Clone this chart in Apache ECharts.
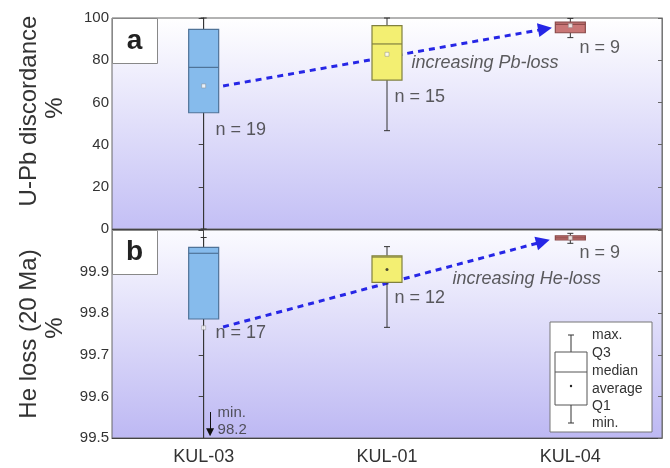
<!DOCTYPE html>
<html>
<head>
<meta charset="utf-8">
<script src="https://cdn.jsdelivr.net/npm/echarts@6/dist/echarts.min.js"></script>
<style>
html,body{margin:0;padding:0;background:#fff;}
#chart{width:670px;height:468px;}
</style>
</head>
<body>
<div id="chart"></div>
<script>
// ---- data ----
const categories = ['KUL-03', 'KUL-01', 'KUL-04'];

// U-Pb discordance (%)
const pbMin    = [0, 46.6, 90.7];
const pbQ1     = [55.1, 70.6, 93.0];
const pbMedian = [76.6, 87.7, 97.0];
const pbQ3     = [94.6, 96.4, 98.0];
const pbMax    = [100, 100, 99.8];
const pbMean   = [67.8, 82.8, 96.4];
const pbN      = [19, 15, 9];

// He loss (20 Ma) (%)
const heMin    = [98.2, 99.766, 99.968];
const heQ1     = [99.786, 99.874, 99.976];
const heMedian = [99.944, 99.935, 99.981];
const heQ3     = [99.958, 99.938, 99.986];
const heMax    = [99.982, 99.96, 99.992];
const heMean   = [99.765, 99.905, 99.981];
const heN      = [17, 12, 9];

// axis ticks
const pbTicks = [0, 20, 40, 60, 80, 100];
const heTicks = [99.5, 99.6, 99.7, 99.8, 99.9, 100.0];

// annotation anchors (data coordinates)
const pbNPos  = [[0.062, 46.9], [1.038, 62.6], [2.047, 85.8]];
const heNPos  = [[0.062, 99.752], [1.038, 99.837], [2.047, 99.945]];
const pbTrendText = [1.131, 78.7];
const heTrendText = [1.355, 99.882];
const pbArrow = [[0.106, 67.8], [1.862, 94.8]];
const heArrow = [[0.106, 99.767], [1.851, 99.972]];
const minArrow = [[0.035, 99.5625], [0.035, 99.514]];
const minText = [0.073, 99.540];
const heOffMin = heMin[0];

// ---- styles ----
const FONT = "'Liberation Sans', Arial, sans-serif";
const boxFill = ['#86bbec', '#f3ef72', '#c97676'];
const boxLine = ['#4f7398', '#808040', '#8a4a4a'];

function bgGrad(top, bottom) {
  return {type: 'linear', x: 0, y: 0, x2: 0, y2: 1,
    colorStops: [{offset: 0, color: top}, {offset: 1, color: bottom}]};
}

function boxRender(params, api) {
  const i = api.value(0);
  const cs = params.coordSys;
  const yTop = cs.y, yBot = cs.y + cs.height;
  const clamp = v => Math.max(yTop, Math.min(yBot, v));
  const pMin = api.coord([i, api.value(1)]);
  const pQ1 = api.coord([i, api.value(2)]);
  const pMed = api.coord([i, api.value(3)]);
  const pQ3 = api.coord([i, api.value(4)]);
  const pMax = api.coord([i, api.value(5)]);
  const x = pMin[0];
  const half = 15, cap = 3;
  const idx = params.dataIndex;
  const lineStyle = {stroke: '#333', lineWidth: 1, fill: null};
  const yMin = clamp(pMin[1]);
  const yMax = clamp(pMax[1]);
  const children = [
    {type: 'line', shape: {x1: x, y1: yMax, x2: x, y2: pQ3[1]}, style: lineStyle},
    {type: 'line', shape: {x1: x, y1: pQ1[1], x2: x, y2: yMin}, style: lineStyle},
    {type: 'rect', shape: {x: x - half, y: pQ3[1], width: half * 2, height: Math.max(1, pQ1[1] - pQ3[1])},
      style: {fill: boxFill[idx], stroke: boxLine[idx], lineWidth: 1.2}},
    {type: 'line', shape: {x1: x - half, y1: pMed[1], x2: x + half, y2: pMed[1]},
      style: {stroke: boxLine[idx], lineWidth: 1.2}}
  ];
  if (pMax[1] >= yTop) children.push({type: 'line', shape: {x1: x - cap, y1: yMax, x2: x + cap, y2: yMax}, style: lineStyle});
  if (pMin[1] <= yBot) children.push({type: 'line', shape: {x1: x - cap, y1: yMin, x2: x + cap, y2: yMin}, style: lineStyle});
  return {type: 'group', children: children};
}

function boxData(mn, q1, md, q3, mx) {
  return categories.map((c, i) => [i, mn[i], q1[i], md[i], q3[i], mx[i]]);
}

const axisTextStyle = {color: '#333', fontSize: 15, fontFamily: FONT};

function yAxes(gridIndex, ticks, isHe) {
  const lo = ticks[0], hi = ticks[ticks.length - 1];
  const itv = ticks[1] - ticks[0];
  return [
    {gridIndex, type: 'value', min: lo, max: hi, interval: itv, position: 'left',
      axisLine: {show: true, lineStyle: {color: '#444', width: 1}},
      axisTick: {show: true, length: 5, lineStyle: {color: '#444'}},
      axisLabel: Object.assign({margin: 3,
        formatter: v => isHe ? (v > hi - itv / 2 ? '' : Number(v).toFixed(1)) : String(Math.round(v))}, axisTextStyle),
      splitLine: {show: false}},
    {gridIndex, type: 'value', min: lo, max: hi, interval: itv, position: 'right',
      axisLine: {show: true, lineStyle: {color: '#777', width: 1}},
      axisTick: {show: true, inside: true, length: 4, lineStyle: {color: '#666'}},
      axisLabel: {show: false}, splitLine: {show: false}}
  ];
}

const textLabel = (extra) => Object.assign({show: true, position: 'right', distance: 0,
  color: '#333', fontSize: 18, fontFamily: FONT}, extra || {});

function annotationSeries(xIdx, yIdx, items) {
  return {type: 'scatter', xAxisIndex: xIdx, yAxisIndex: yIdx, symbolSize: 1, silent: true,
    itemStyle: {color: 'rgba(0,0,0,0)'}, z: 6,
    data: items.map(it => ({value: it.pos, label: textLabel(Object.assign({formatter: it.text}, it.style || {}))}))};
}

const meanStyle = {color: '#ffffff', borderColor: '#888', borderWidth: 0.6};
const meanDotStyle = {color: '#222', borderColor: '#222', borderWidth: 0};

const option = {
  animation: false,
  backgroundColor: '#ffffff',
  grid: [
    {left: 112, top: 18, width: 550, height: 211, show: true, borderColor: '#666', borderWidth: 1,
      backgroundColor: bgGrad('#ffffff', '#c3bff5')},
    {left: 112, top: 230, width: 550, height: 208, show: true, borderColor: '#666', borderWidth: 1,
      backgroundColor: bgGrad('#fbfbff', '#bdb8f3')}
  ],
  xAxis: [
    {gridIndex: 0, type: 'category', data: categories, boundaryGap: true,
      axisLine: {show: true, lineStyle: {color: '#444'}}, axisTick: {show: false}, axisLabel: {show: false}},
    {gridIndex: 0, type: 'value', min: -0.5, max: 2.5, show: false},
    {gridIndex: 1, type: 'category', data: categories, boundaryGap: true,
      axisLine: {show: true, lineStyle: {color: '#444'}}, axisTick: {show: false},
      axisLabel: Object.assign({}, axisTextStyle, {fontSize: 18, margin: 10})},
    {gridIndex: 1, type: 'value', min: -0.5, max: 2.5, show: false}
  ],
  yAxis: [].concat(yAxes(0, pbTicks, false), yAxes(1, heTicks, true)),
  series: [
    // trend arrows (behind boxes)
    {type: 'lines', coordinateSystem: 'cartesian2d', xAxisIndex: 1, yAxisIndex: 0, z: 1,
      symbol: ['none', 'triangle'], symbolSize: [0, 14],
      lineStyle: {color: '#2626e6', width: 3, type: [6, 5], opacity: 1},
      data: [{coords: pbArrow}]},
    {type: 'lines', coordinateSystem: 'cartesian2d', xAxisIndex: 3, yAxisIndex: 2, z: 1,
      symbol: ['none', 'triangle'], symbolSize: [0, 14],
      lineStyle: {color: '#2626e6', width: 3, type: [6, 5], opacity: 1},
      data: [{coords: heArrow}]},
    // boxes
    {type: 'custom', xAxisIndex: 1, yAxisIndex: 0, z: 3, renderItem: boxRender,
      encode: {x: 0, y: [1, 2, 3, 4, 5]}, data: boxData(pbMin, pbQ1, pbMedian, pbQ3, pbMax)},
    {type: 'custom', xAxisIndex: 3, yAxisIndex: 2, z: 3, renderItem: boxRender,
      encode: {x: 0, y: [1, 2, 3, 4, 5]}, data: boxData(heMin, heQ1, heMedian, heQ3, heMax)},
    // means
    {type: 'scatter', xAxisIndex: 1, yAxisIndex: 0, z: 4, symbol: 'rect', symbolSize: 4,
      itemStyle: meanStyle,
      data: pbMean.map((v, i) => [i, v])},
    {type: 'scatter', xAxisIndex: 3, yAxisIndex: 2, z: 4, symbol: 'rect', symbolSize: 4,
      itemStyle: meanStyle,
      data: heMean.map((v, i) => i === 1
        ? {value: [i, v], symbol: 'circle', symbolSize: 3, itemStyle: meanDotStyle}
        : [i, v])},
    // min arrow
    {type: 'lines', coordinateSystem: 'cartesian2d', xAxisIndex: 3, yAxisIndex: 2, z: 5,
      symbol: ['none', 'triangle'], symbolSize: [0, 8],
      lineStyle: {color: '#111', width: 1, type: 'solid', opacity: 1},
      data: [{coords: minArrow}]},
    // text annotations
    annotationSeries(1, 0, pbN.map((n, i) => ({pos: pbNPos[i], text: 'n = ' + n}))
      .concat([{pos: pbTrendText, text: 'increasing Pb-loss', style: {fontStyle: 'italic'}}])),
    annotationSeries(3, 2, heN.map((n, i) => ({pos: heNPos[i], text: 'n = ' + n}))
      .concat([{pos: heTrendText, text: 'increasing He-loss', style: {fontStyle: 'italic'}},
               {pos: minText, text: 'min.\n' + heOffMin.toFixed(1), style: {fontSize: 15, lineHeight: 17}}]))
  ],
  graphic: [
    // panel letters
    {type: 'rect', left: 112, top: 18, shape: {width: 45, height: 45}, z: 10,
      style: {fill: '#fff', stroke: '#888', lineWidth: 1}},
    {type: 'text', x: 134.5, y: 41, z: 11,
      style: {text: 'a', fontSize: 28, fontWeight: 'bold', fontFamily: FONT, fill: '#222', align: 'center', verticalAlign: 'middle'}},
    {type: 'rect', left: 112, top: 230, shape: {width: 45, height: 44}, z: 10,
      style: {fill: '#fff', stroke: '#888', lineWidth: 1}},
    {type: 'text', x: 134.5, y: 252, z: 11,
      style: {text: 'b', fontSize: 28, fontWeight: 'bold', fontFamily: FONT, fill: '#222', align: 'center', verticalAlign: 'middle'}},
    // y-axis titles
    {type: 'text', x: 29, y: 111, rotation: Math.PI / 2, z: 10,
      style: {text: 'U-Pb discordance', fontSize: 24, fontFamily: FONT, fill: '#333', align: 'center', verticalAlign: 'middle'}},
    {type: 'text', x: 55, y: 108, rotation: Math.PI / 2, z: 10,
      style: {text: '%', fontSize: 24, fontFamily: FONT, fill: '#333', align: 'center', verticalAlign: 'middle'}},
    {type: 'text', x: 29, y: 334, rotation: Math.PI / 2, z: 10,
      style: {text: 'He loss (20 Ma)', fontSize: 24, fontFamily: FONT, fill: '#333', align: 'center', verticalAlign: 'middle'}},
    {type: 'text', x: 55, y: 328, rotation: Math.PI / 2, z: 10,
      style: {text: '%', fontSize: 24, fontFamily: FONT, fill: '#333', align: 'center', verticalAlign: 'middle'}},
    // legend key
    {type: 'group', z: 10, children: [
      {type: 'rect', shape: {x: 550, y: 322, width: 102, height: 110}, style: {fill: '#fff', stroke: '#777', lineWidth: 1}},
      {type: 'line', shape: {x1: 571, y1: 335, x2: 571, y2: 352}, style: {stroke: '#333', lineWidth: 1}},
      {type: 'line', shape: {x1: 568, y1: 335, x2: 574, y2: 335}, style: {stroke: '#333', lineWidth: 1}},
      {type: 'rect', shape: {x: 555, y: 352, width: 32, height: 53}, style: {fill: '#fff', stroke: '#555', lineWidth: 1}},
      {type: 'line', shape: {x1: 555, y1: 372, x2: 587, y2: 372}, style: {stroke: '#555', lineWidth: 1}},
      {type: 'circle', shape: {cx: 571, cy: 386, r: 1.2}, style: {fill: '#222'}},
      {type: 'line', shape: {x1: 571, y1: 405, x2: 571, y2: 423}, style: {stroke: '#333', lineWidth: 1}},
      {type: 'line', shape: {x1: 568, y1: 423, x2: 574, y2: 423}, style: {stroke: '#333', lineWidth: 1}},
      {type: 'text', x: 592, y: 335, style: {text: 'max.', fontSize: 14, fontFamily: FONT, fill: '#333', verticalAlign: 'middle'}},
      {type: 'text', x: 592, y: 353, style: {text: 'Q3', fontSize: 14, fontFamily: FONT, fill: '#333', verticalAlign: 'middle'}},
      {type: 'text', x: 592, y: 371, style: {text: 'median', fontSize: 14, fontFamily: FONT, fill: '#333', verticalAlign: 'middle'}},
      {type: 'text', x: 592, y: 389, style: {text: 'average', fontSize: 14, fontFamily: FONT, fill: '#333', verticalAlign: 'middle'}},
      {type: 'text', x: 592, y: 406, style: {text: 'Q1', fontSize: 14, fontFamily: FONT, fill: '#333', verticalAlign: 'middle'}},
      {type: 'text', x: 592, y: 423, style: {text: 'min.', fontSize: 14, fontFamily: FONT, fill: '#333', verticalAlign: 'middle'}}
    ]}
  ]
};

const chart = echarts.init(document.getElementById('chart'), null, {renderer: 'canvas'});
chart.setOption(option);
</script>
</body>
</html>
